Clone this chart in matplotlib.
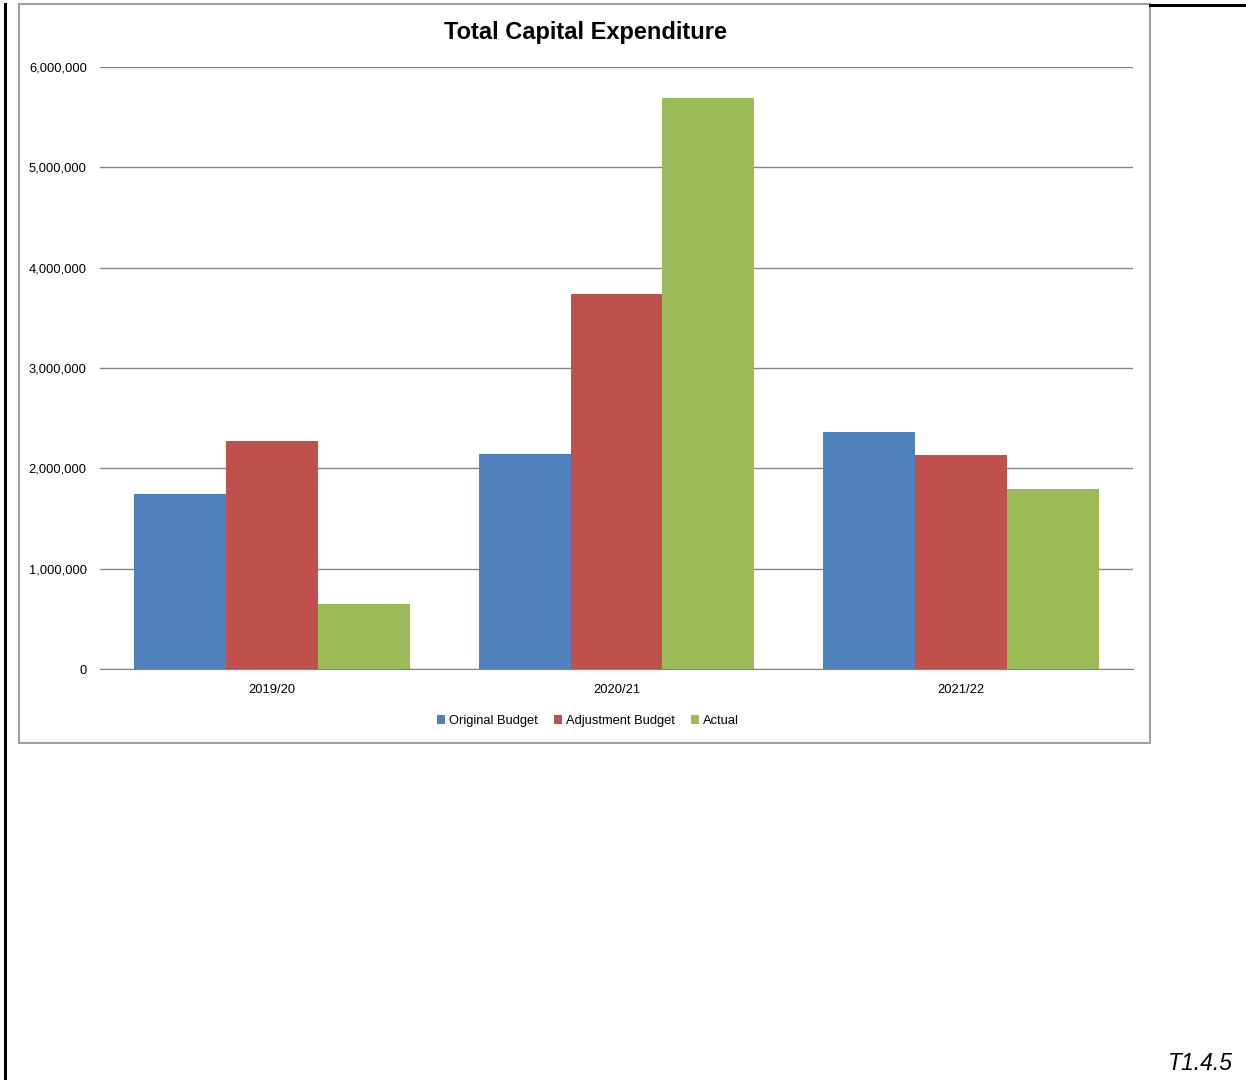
import matplotlib.pyplot as plt
import numpy as np
from matplotlib.lines import Line2D
from matplotlib.patches import Rectangle

# Data
years = ["2019/20", "2020/21", "2021/22"]
original_budget = [1745000, 2143000, 2362000]
adjustment_budget = [2272000, 3738000, 2133000]
actual = [648000, 5691000, 1794000]

series = [
    ("Original Budget", original_budget, "#4F81BD"),
    ("Adjustment Budget", adjustment_budget, "#C0504D"),
    ("Actual", actual, "#9BBB59"),
]

plt.rcParams["font.family"] = ["Liberation Sans", "DejaVu Sans"]

W, H = 1246, 1080
fig = plt.figure(figsize=(W / 100, H / 100), dpi=100)

# Outer frame pieces and chart box
fig.add_artist(Line2D([5 / W, 5 / W], [0, 1 - 4 / H], color="black", lw=2.2))
fig.add_artist(Line2D([1150 / W, 1], [1 - 5 / H, 1 - 5 / H], color="black", lw=2.2))
fig.add_artist(Rectangle((19 / W, 1 - 743 / H), 1131 / W, 739 / H,
                         fill=False, edgecolor="#a0a0a0", lw=1.5, zorder=0))

ax = fig.add_axes([100 / W, 1 - 669 / H, 1033 / W, 602 / H])

x = np.arange(len(years))
bw = 0.8 / 3
for i, (label, vals, color) in enumerate(series):
    ax.bar(x + (i - 1) * bw, vals, width=bw, color=color, label=label, zorder=3)

ax.set_xlim(-0.5, 2.5)
ax.set_ylim(0, 6000000)
ax.set_yticks(np.arange(0, 6000001, 1000000))
ax.yaxis.set_major_formatter(plt.FuncFormatter(lambda v, p: f"{int(v):,}"))
ax.set_xticks(x)
ax.set_xticklabels(years)
ax.tick_params(axis="both", length=0, labelsize=9.3)
ax.tick_params(axis="y", pad=9.5)
ax.tick_params(axis="x", pad=11)
ax.grid(axis="y", color="#868686", lw=1.0, zorder=0)
for s in ["left", "right", "top"]:
    ax.spines[s].set_visible(False)
ax.spines["bottom"].set_color("#868686")

fig.text(585 / W, 1 - 33 / H, "Total Capital Expenditure", ha="center", va="center",
         fontsize=17, fontweight="bold")

ax.legend(loc="center", bbox_to_anchor=(588 / W, 1 - 721 / H), bbox_transform=fig.transFigure,
          ncol=3, frameon=False, fontsize=9.3, handlelength=0.6, handleheight=0.6,
          handletextpad=0.3, columnspacing=1.3)

fig.text(1233 / W, 1 - 1064 / H, "T1.4.5", ha="right", va="center",
         fontsize=16.5, style="italic")

fig.savefig("out.png", dpi=100)
